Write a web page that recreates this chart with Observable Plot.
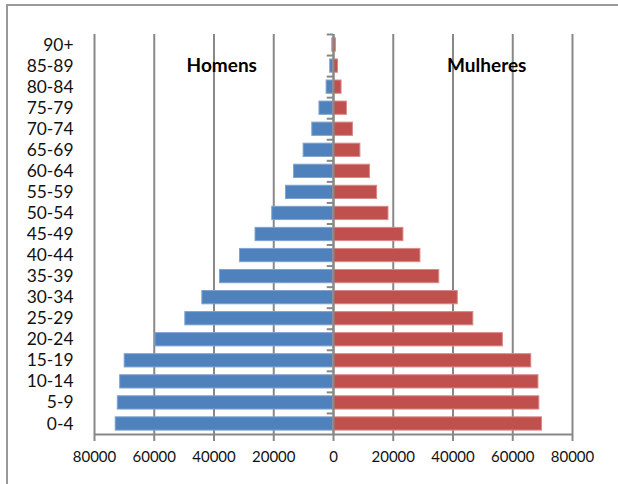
<!DOCTYPE html>
<html>
<head>
<meta charset="utf-8">
<script src="https://cdn.jsdelivr.net/npm/d3@7"></script>
<script src="https://cdn.jsdelivr.net/npm/@observablehq/plot@0.6"></script>
<style>
  html, body { margin: 0; padding: 0; background: #fff; overflow: hidden; width: 618px; height: 484px; }
  #wrap { position: relative; width: 618px; height: 484px; }
  #border { position: absolute; left: 6px; top: 4px; width: 700px; height: 600px; border: 2px solid #999; box-sizing: border-box; }
  #chart { position: absolute; left: 0; top: 0; }
</style>
</head>
<body>
<div id="wrap"><div id="border"></div><div id="chart"></div></div>
<script>
const ages = ["90+","85-89","80-84","75-79","70-74","65-69","60-64","55-59","50-54","45-49","40-44","35-39","30-34","25-29","20-24","15-19","10-14","5-9","0-4"];
const homens = [400,1100,2300,4700,7100,10000,13200,15900,20500,26100,31300,38000,43900,49600,59600,69900,71400,72200,72900];
const mulheres = [800,1500,2700,4500,6500,9000,12200,14600,18400,23400,29100,35400,41600,46800,56700,66200,68600,68900,69800];
const xTicks = [-80000,-60000,-40000,-20000,0,20000,40000,60000,80000];
const labels = [{text: "Homens", x: -37400, y: "85-89"}, {text: "Mulheres", x: 51300, y: "85-89"}];

const men = ages.map((a, i) => ({age: a, v: -homens[i]}));
const women = ages.map((a, i) => ({age: a, v: mulheres[i]}));

const H = 484, mt = 34, mb = 50;
const step = (H - mt - mb) / ages.length;

const chart = Plot.plot({
  width: 618,
  height: H,
  marginLeft: 94,
  marginRight: 46,
  marginTop: mt,
  marginBottom: mb,
  style: {fontFamily: "Lato, sans-serif", background: "transparent", color: "#111"},
  x: {domain: [-80000, 80000]},
  y: {domain: ages, paddingInner: 0.37, paddingOuter: 0.185, round: false},
  marks: [
    Plot.ruleX(xTicks, {stroke: "#888", strokeWidth: 2}),
    Plot.barX(men, {y: "age", x1: 0, x2: "v", fill: "#4F81BD", stroke: "#7fa3d0", strokeWidth: 1}),
    Plot.barX(women, {y: "age", x1: 0, x2: "v", fill: "#C0504D", stroke: "#d88a88", strokeWidth: 1}),
    Plot.ruleX([0], {stroke: "#888", strokeWidth: 2}),
    Plot.ruleY(ages, {y: d => d, x1: -2100, x2: 0, dy: -step / 2, stroke: "#888", strokeWidth: 2}),
    Plot.ruleY([ages[ages.length - 1]], {x1: -80000, x2: 80000, dy: step / 2, stroke: "#888", strokeWidth: 2}),
    Plot.axisX(xTicks, {tickSize: 7, tickPadding: 10, tickFormat: d => String(Math.abs(d)), fontSize: 15, stroke: "#888", strokeWidth: 2, strokeOpacity: 1, label: null}),
    Plot.axisY({tickSize: 0, tickPadding: 21, fontSize: 17.4, label: null}),
    Plot.text(labels, {x: "x", y: "y", text: "text", fontSize: 19, fontWeight: "bold", fill: "#000"})
  ]
});
document.getElementById("chart").appendChild(chart);
</script>
</body>
</html>
